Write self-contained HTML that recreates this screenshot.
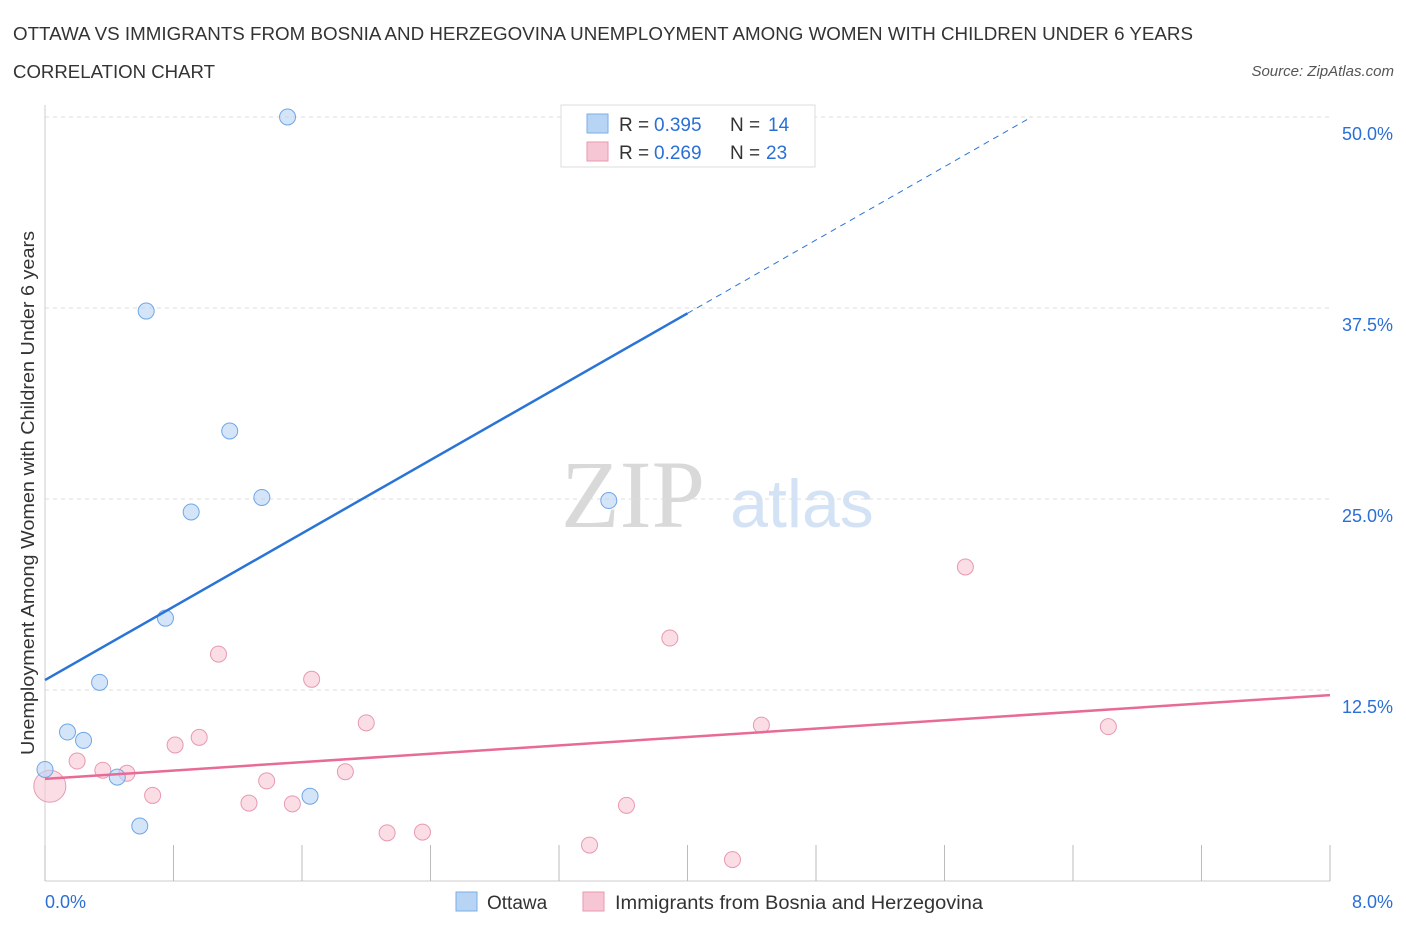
<!DOCTYPE html>
<html><head><meta charset="utf-8"><style>
body{margin:0;background:#fff;font-family:"Liberation Sans",sans-serif;}
</style></head><body>
<svg id="c" width="1406" height="930" font-family="Liberation Sans, sans-serif">
<text x="13" y="40" font-size="18" fill="#333" textLength="1180" lengthAdjust="spacingAndGlyphs">OTTAWA VS IMMIGRANTS FROM BOSNIA AND HERZEGOVINA UNEMPLOYMENT AMONG WOMEN WITH CHILDREN UNDER 6 YEARS</text>
<text x="13" y="78" font-size="18" fill="#333" textLength="202" lengthAdjust="spacingAndGlyphs">CORRELATION CHART</text>
<text x="1394" y="76" font-size="15" fill="#555" font-style="italic" text-anchor="end">Source: ZipAtlas.com</text>
<text x="633" y="527" font-size="96" fill="#d9d9d9" style="font-family:'Liberation Serif',serif" text-anchor="middle">ZIP</text>
<text x="802" y="527" font-size="68" fill="#d3e2f5" text-anchor="middle">atlas</text>
<text transform="translate(34,493) rotate(-90)" font-size="18" fill="#333" text-anchor="middle" textLength="524" lengthAdjust="spacingAndGlyphs">Unemployment Among Women with Children Under 6 years</text>
<g id="grid"></g><g id="marks"></g>
<g>
<rect x="561" y="105" width="254" height="62" fill="#fff" stroke="#ddd"/>
<rect x="587" y="114" width="21" height="19" fill="#b8d4f5" stroke="#7aaee8"/>
<text x="619" y="131" font-size="19" fill="#333">R =</text><text x="654" y="131" font-size="19" fill="#2a6fd6">0.395</text>
<text x="730" y="131" font-size="19" fill="#333">N =</text><text x="768" y="131" font-size="19" fill="#2a6fd6">14</text>
<rect x="587" y="142" width="21" height="19" fill="#f7c6d4" stroke="#e899b0"/>
<text x="619" y="159" font-size="19" fill="#333">R =</text><text x="654" y="159" font-size="19" fill="#2a6fd6">0.269</text>
<text x="730" y="159" font-size="19" fill="#333">N =</text><text x="766" y="159" font-size="19" fill="#2a6fd6">23</text>
</g>
<g>
<rect x="456" y="892" width="21" height="19" fill="#b8d4f5" stroke="#7aaee8"/>
<text x="487" y="909" font-size="19" fill="#333">Ottawa</text>
<rect x="583" y="892" width="21" height="19" fill="#f7c6d4" stroke="#e899b0"/>
<text x="615" y="909" font-size="19" fill="#333" textLength="368" lengthAdjust="spacingAndGlyphs">Immigrants from Bosnia and Herzegovina</text>
</g>
<text x="45" y="908" font-size="18" fill="#2a6fd6">0.0%</text>
<text x="1393" y="908" font-size="18" fill="#2a6fd6" text-anchor="end">8.0%</text>
</svg>
<script>
const yTicks=[12.5,25,37.5,50];
const yTickLabels=["12.5%","25.0%","37.5%","50.0%"];
const ottawaX=[0,0.14,0.24,0.34,0.45,0.59,0.63,0.75,0.91,1.15,1.35,1.51,1.65,3.51];
const ottawaY=[7.3,9.75,9.2,13.0,6.8,3.6,37.3,17.2,24.15,29.45,25.1,50.0,5.55,24.9];
const bosniaX=[0.03,0.2,0.36,0.51,0.67,0.81,0.96,1.08,1.27,1.38,1.54,1.66,1.87,2.0,2.13,2.35,3.39,3.62,3.89,4.28,4.46,5.73,6.62];
const bosniaY=[6.2,7.85,7.25,7.05,5.6,8.9,9.4,14.85,5.1,6.55,5.05,13.2,7.15,10.35,3.15,3.2,2.35,4.95,15.9,1.4,10.2,20.55,10.1];
const ottawaTrend=[13.15,6.0];
const bosniaTrend=[6.68,0.686];
const NS="http://www.w3.org/2000/svg";
const X=v=>45+v*1285/8, Y=v=>881-v*191/12.5;
function mk(t,a,p){const e=document.createElementNS(NS,t);for(const k in a)e.setAttribute(k,a[k]);p.appendChild(e);return e;}
const g=document.getElementById('grid'),m=document.getElementById('marks');
yTicks.forEach((t,i)=>{
 const l=mk('line',{x1:45,x2:1330,y1:Y(t),y2:Y(t),stroke:'#ddd','stroke-dasharray':'4,4'},g);
 
 
 const tx=mk('text',{x:1393,y:Y(t)+23,'font-size':18,fill:'#2a6fd6','text-anchor':'end'},g);
 tx.textContent=yTickLabels[i];
 
 
});
const ax=mk('line',{x1:45,x2:1330,y1:881,y2:881,stroke:'#ccc'},g);


const ay=mk('line',{x1:45,x2:45,y1:105,y2:881,stroke:'#ccc'},g);


for(let i=0;i<=10;i++){const t=mk('line',{x1:X(i*0.8),x2:X(i*0.8),y1:845,y2:881,stroke:'#bbb'},g);
 
 }
bosniaX.forEach((x,i)=>{const c=mk('circle',{cx:X(x),cy:Y(bosniaY[i]),r:i==0?16:8,fill:'#f7c6d4','fill-opacity':0.6,stroke:'#e899b0'},m);
 
 });
ottawaX.forEach((x,i)=>{const c=mk('circle',{cx:X(x),cy:Y(ottawaY[i]),r:8,fill:'#b8d4f5','fill-opacity':0.6,stroke:'#6fa6e6'},m);
 
 });
const xe=(50-ottawaTrend[0])/ottawaTrend[1];
const l1=mk('line',{x1:X(0),y1:Y(ottawaTrend[0]),x2:X(4),y2:Y(ottawaTrend[0]+4*ottawaTrend[1]),stroke:'#2a74d6','stroke-width':2.5},m);


const l2=mk('line',{x1:X(4),y1:Y(ottawaTrend[0]+4*ottawaTrend[1]),x2:X(xe),y2:Y(50),stroke:'#2a74d6','stroke-width':1,'stroke-dasharray':'6,5'},m);


const l3=mk('line',{x1:X(0),y1:Y(bosniaTrend[0]),x2:X(8),y2:Y(bosniaTrend[0]+8*bosniaTrend[1]),stroke:'#e86a96','stroke-width':2.5},m);


</script>
</body></html>
